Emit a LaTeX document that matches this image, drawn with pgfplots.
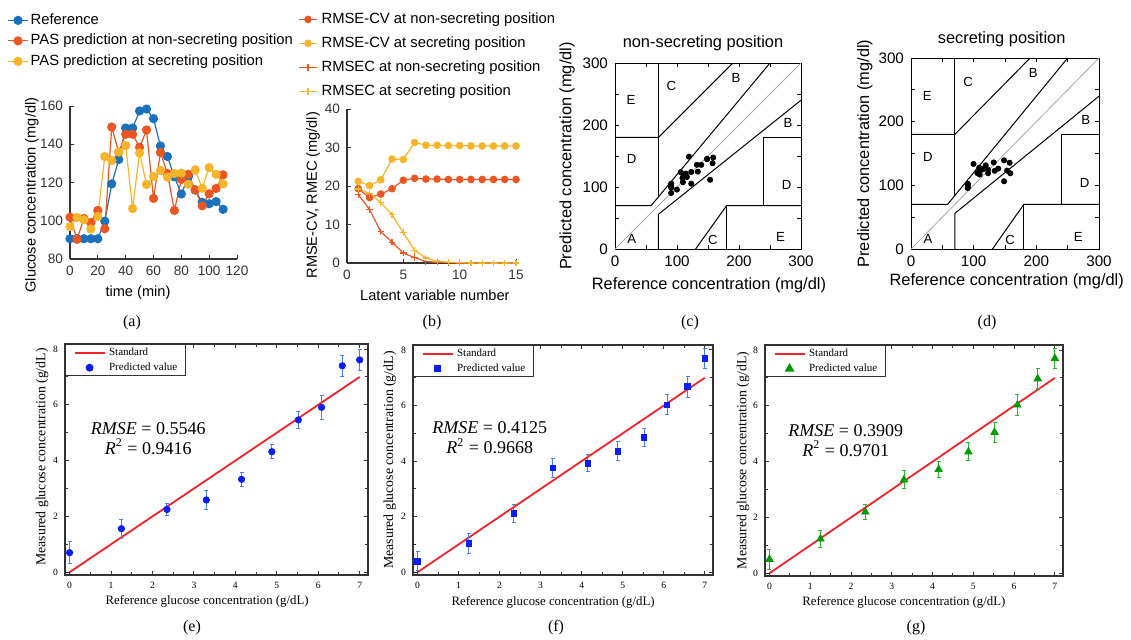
\documentclass[border=0pt]{standalone}
\usepackage{pgfplots}
\pgfplotsset{compat=1.18}
\usepackage{pgfplotstable}
\usepackage{fontspec}
\setmainfont{Liberation Serif}
\newfontfamily\arial{Liberation Sans}

\definecolor{mblue}{HTML}{1A72BD}
\definecolor{mred}{HTML}{EC5622}
\definecolor{myel}{HTML}{F6B42A}
\definecolor{axgray}{HTML}{333333}
\definecolor{pblue}{HTML}{0A1EF5}
\definecolor{eblue}{HTML}{4C7CF2}
\definecolor{pgreen}{HTML}{009A00}
\definecolor{egreen}{HTML}{2DB52D}
\definecolor{stdred}{HTML}{F2222A}

\pgfplotstableread{
t ref non sec
0 90.6 101.9 97.0
5 90.6 90.3 101.7
10 90.6 101.2 100.5
15 90.6 99.1 95.7
20 90.6 105.4 102.3
25 99.8 95.8 133.6
30 119.3 149.0 131.5
35 132.0 135.8 136.0
40 148.5 145.2 139.3
45 148.5 145.2 106.4
50 157.4 138.4 135.5
55 158.4 147.5 119.0
60 153.4 111.7 123.1
65 139.1 135.7 126.3
70 133.6 124.7 122.8
75 123.0 105.4 124.7
80 114.0 121.6 124.9
85 123.0 124.3 119.1
90 116.0 116.2 126.6
95 109.6 107.8 117.0
100 108.9 114.1 127.8
105 110.0 116.9 124.3
110 106.0 124.0 119.3
}\tabA

\pgfplotstableread{
n cvn cvs cn cs
1 19.3 21.2 17.8 19.2
2 17.0 20.1 13.9 18.1
3 17.9 21.6 8.1 15.7
4 19.3 27.0 5.4 12.5
5 21.5 26.9 2.6 7.9
6 22.0 31.3 1.4 3.3
7 21.8 30.6 0.4 1.3
8 21.8 30.6 0.2 0.5
9 21.7 30.5 0.1 0.2
10 21.7 30.5 0.0 0.1
11 21.7 30.4 0.0 0.0
12 21.7 30.4 0.0 0.0
13 21.7 30.4 0.0 0.0
14 21.7 30.4 0.0 0.0
15 21.7 30.4 0.0 0.0
}\tabB

\pgfplotstableread{
x e ee f fe g ge
0    0.70 0.40 0.40 0.35 0.50 0.35
1.25 1.56 0.34 1.03 0.36 1.23 0.31
2.35 2.25 0.22 2.11 0.33 2.20 0.26
3.30 2.59 0.35 3.75 0.35 3.35 0.32
4.15 3.33 0.25 3.92 0.31 3.72 0.29
4.88 4.32 0.26 4.35 0.34 4.35 0.32
5.52 5.46 0.31 4.85 0.34 5.05 0.36
6.08 5.91 0.43 6.03 0.37 6.03 0.37
6.58 7.40 0.38 6.68 0.38 6.97 0.35
7.00 7.61 0.37 7.69 0.36 7.70 0.35
}\tabC

\tikzset{
 zl/.style={font=\arial\fontsize{6.6}{7}\selectfont, inner sep=0pt},
 rmse/.style={font=\fontsize{9}{10}\selectfont, align=center},
}

\pgfplotsset{
 mat/.style={
  scale only axis,
  axis lines=left,
  axis line style={-, draw=axgray, line width=0.55pt},
  tick style={axgray, line width=0.45pt},
  tick align=inside,
  major tick length=2.2pt,
  ticklabel style={font=\arial\fontsize{6.8}{8}\selectfont, text=axgray},
  /pgf/number format/assume math mode=true,
  label style={font=\arial\fontsize{7.3}{8.5}\selectfont},
  legend cell align=left,
  legend style={draw=none, fill=none, inner sep=0pt, anchor=north west,
     font=\arial\fontsize{7.4}{9}\selectfont,
     nodes={inner sep=0pt, text height=5.4pt, text depth=1.6pt}},
 },
 clarke/.style={
  scale only axis,
  xmin=0,xmax=300,ymin=0,ymax=300,
  xtick={0,100,200,300}, ytick={0,100,200,300},
  minor tick num=1,
  tick align=inside,
  major tick length=2pt, minor tick length=2pt,
  axis line style={line width=0.5pt},
  tick style={black, line width=0.4pt},
  ticklabel style={font=\arial\fontsize{7.6}{8}\selectfont},
  /pgf/number format/assume math mode=true,
  label style={font=\arial\fontsize{8.2}{9}\selectfont},
  every axis title shift=0pt,
  title style={font=\arial\fontsize{8.2}{9}\selectfont, anchor=center},
 },
 zone/.style={black, line width=0.5pt, no marks},
 orig/.style={
  scale only axis,
  xmin=-0.11, xmax=7.2, ymin=-0.1, ymax=8.18,
  xtick={0,...,7}, ytick={0,2,4,6,8},
  minor x tick num=1, minor y tick num=1,
  tick align=inside,
  major tick length=2.2pt, minor tick length=1.3pt,
  axis line style={line width=0.7pt, black!80},
  tick style={line width=0.5pt, black!80},
  ticklabel style={font=\fontsize{4.8}{5}\selectfont},
  /pgf/number format/assume math mode=true,
  xlabel style={font=\fontsize{6.4}{7}\selectfont},
  ylabel style={font=\fontsize{6.9}{7}\selectfont},
  xlabel={Reference glucose concentration (g/dL)},
  ylabel={Measured glucose concentration (g/dL)},
  legend cell align=left,
  legend style={at={(0,1)}, anchor=north west, draw=black!80, line width=0.7pt,
     fill=white, inner xsep=4pt, inner ysep=1.4pt, row sep=2.3pt, column sep=1.8pt,
     font=\fontsize{5.5}{6}\selectfont,
     nodes={inner sep=0pt, text height=4pt, text depth=1.2pt}},
  legend image code/.code={\draw[mark repeat=2,mark phase=2,#1] plot coordinates {(0pt,0pt) (7.5pt,0pt) (15pt,0pt)};},
 },
}

\begin{document}
\begin{tikzpicture}
\path (0,0) rectangle (565.5pt,-319.5pt);

% ---------- (a)
\begin{axis}[mat, at={(35pt,-129.5pt)}, anchor=south west, width=83.5pt, height=76.5pt,
  xmin=0, xmax=120, ymin=80, ymax=160, xtick={0,20,...,120}, ytick={80,100,...,160},
  xlabel={time (min)}, ylabel={Glucose concentration (mg/dl)},
  xlabel style={at={(axis description cs:0.407,-0.222)}, anchor=center},
  ylabel style={at={(axis description cs:-0.228,0.418)}, anchor=center},
  legend style={at={(-0.377,1.608)}, row sep=3.25pt, column sep=1pt},
  legend image code/.code={\draw[mark repeat=2,mark phase=2,#1] plot coordinates {(0pt,0pt) (5pt,0pt) (10pt,0pt)};},
  ]
\addplot[mblue, line width=0.6pt, mark=*, mark size=2pt] table[x=t,y=ref]{\tabA};
\addlegendentry{Reference}
\addplot[mred, line width=0.6pt, mark=*, mark size=2pt] table[x=t,y=non]{\tabA};
\addlegendentry{PAS prediction at non-secreting position}
\addplot[myel, line width=0.6pt, mark=*, mark size=2pt] table[x=t,y=sec]{\tabA};
\addlegendentry{PAS prediction at secreting position}
\end{axis}

% ---------- (b)
\begin{axis}[mat, at={(173.5pt,-131.5pt)}, anchor=south west, width=84.5pt, height=77pt,
  xmin=0, xmax=15, ymin=0, ymax=40, xtick={0,5,10,15}, ytick={0,10,...,40},
  xlabel={Latent variable number}, ylabel={RMSE-CV, RMEC (mg/dl)},
  xlabel style={at={(axis description cs:0.52,-0.208)}, anchor=center},
  ylabel style={at={(axis description cs:-0.201,0.44)}, anchor=center},
  legend style={at={(-0.290,1.630)}, row sep=5pt, column sep=2pt},
  legend image code/.code={\draw[mark repeat=2,mark phase=2,#1] plot coordinates {(0pt,0pt) (4.5pt,0pt) (9pt,0pt)};},
  ]
\addplot[mred, line width=0.6pt, mark=*, mark size=1.6pt] table[x=n,y=cvn]{\tabB};
\addlegendentry{RMSE-CV at non-secreting position}
\addplot[myel, line width=0.6pt, mark=*, mark size=1.6pt] table[x=n,y=cvs]{\tabB};
\addlegendentry{RMSE-CV at secreting position}
\addplot[mred, line width=0.6pt, mark=+, mark size=1.6pt] table[x=n,y=cn]{\tabB};
\addlegendentry{RMSEC at non-secreting position}
\addplot[myel, line width=0.6pt, mark=+, mark size=1.6pt] table[x=n,y=cs]{\tabB};
\addlegendentry{RMSEC at secreting position}
\end{axis}

% ---------- (c)
\begin{axis}[clarke, at={(307.5pt,-124.5pt)}, anchor=south west, width=93pt, height=93pt,
  title={non-secreting position},
  title style={at={(axis description cs:0.473,1.108)}},
  xlabel={Reference concentration (mg/dl)}, ylabel={Predicted concentration (mg/dl)},
  xlabel style={at={(axis description cs:0.505,-0.194)}, anchor=center},
  ylabel style={at={(axis description cs:-0.258,0.5)}, anchor=center},
  ]
\addplot[gray!70, line width=0.4pt, no marks] coordinates {(0,0) (300,300)};
\addplot[zone] coordinates {(0,70) (58.33,70) (250,300)};
\addplot[zone] coordinates {(70,84) (70,300)};
\addplot[zone] coordinates {(0,180) (70,180) (190,300)};
\addplot[zone] coordinates {(70,0) (70,56) (300,240)};
\addplot[zone] coordinates {(130,0) (180,70) (300,70)};
\addplot[zone] coordinates {(180,0) (180,70)};
\addplot[zone] coordinates {(240,70) (240,180) (300,180)};
\addplot[only marks, mark=*, mark size=1.3pt, black] table[x=ref,y=non]{\tabA};
\node[zl] at (axis cs:27,16) {A};
\node[zl] at (axis cs:195,276) {B};
\node[zl] at (axis cs:279,203) {B};
\node[zl] at (axis cs:91,263) {C};
\node[zl] at (axis cs:158,15) {C};
\node[zl] at (axis cs:27,145) {D};
\node[zl] at (axis cs:277,104) {D};
\node[zl] at (axis cs:26,240) {E};
\node[zl] at (axis cs:267,19) {E};
\end{axis}

% ---------- (d)
\begin{axis}[clarke, at={(455.5pt,-124.5pt)}, anchor=south west, width=94pt, height=95.5pt,
  title={secreting position},
  title style={at={(axis description cs:0.482,1.098)}},
  xlabel={Reference concentration (mg/dl)}, ylabel={Predicted concentration (mg/dl)},
  xlabel style={at={(axis description cs:0.509,-0.171)}, anchor=center},
  ylabel style={at={(axis description cs:-0.245,0.5)}, anchor=center},
  ]
\addplot[gray!70, line width=0.4pt, no marks] coordinates {(0,0) (300,300)};
\addplot[zone] coordinates {(0,70) (58.33,70) (250,300)};
\addplot[zone] coordinates {(70,84) (70,300)};
\addplot[zone] coordinates {(0,180) (70,180) (190,300)};
\addplot[zone] coordinates {(70,0) (70,56) (300,240)};
\addplot[zone] coordinates {(130,0) (180,70) (300,70)};
\addplot[zone] coordinates {(180,0) (180,70)};
\addplot[zone] coordinates {(240,70) (240,180) (300,180)};
\addplot[only marks, mark=*, mark size=1.3pt, black] table[x=ref,y=sec]{\tabA};
\node[zl] at (axis cs:27,16) {A};
\node[zl] at (axis cs:195,276) {B};
\node[zl] at (axis cs:279,203) {B};
\node[zl] at (axis cs:91,263) {C};
\node[zl] at (axis cs:158,15) {C};
\node[zl] at (axis cs:27,145) {D};
\node[zl] at (axis cs:277,104) {D};
\node[zl] at (axis cs:26,240) {E};
\node[zl] at (axis cs:267,19) {E};
\end{axis}

% ---------- (e)
\begin{axis}[orig, at={(32.5pt,-287.5pt)}, anchor=south west, width=151.5pt, height=115.5pt,
  xlabel style={at={(axis description cs:0.469,-0.113)}, anchor=center},
  ylabel style={at={(axis description cs:-0.076,0.511)}, anchor=center},
  ]
\addplot[stdred, line width=0.9pt, no marks] coordinates {(0,0) (7,7)};
\addlegendentry{Standard}
\addplot[only marks, mark=*, mark size=1.6pt, pblue,
  error bars/.cd, y dir=both, y explicit,
  error bar style={eblue, line width=0.5pt},
  error mark options={rotate=90, mark size=1pt, eblue, line width=0.5pt}]
  table[x=x, y=e, y error=ee]{\tabC};
\addlegendentry{Predicted value\hspace{8pt}}
\node[rmse] at (axis cs:1.9,4.8) {\textit{RMSE} = 0.5546\\\textit{R}\textsuperscript{2} = 0.9416};
\end{axis}

% ---------- (f)
\begin{axis}[orig, at={(206.5pt,-287.5pt)}, anchor=south west, width=150pt, height=115pt,
  xlabel style={at={(axis description cs:0.467,-0.118)}, anchor=center},
  ylabel style={at={(axis description cs:-0.077,0.5)}, anchor=center},
  ]
\addplot[stdred, line width=0.9pt, no marks] coordinates {(0,0) (7,7)};
\addlegendentry{Standard}
\addplot[only marks, mark=square*, mark size=1.4pt, pblue,
  error bars/.cd, y dir=both, y explicit,
  error bar style={eblue, line width=0.5pt},
  error mark options={rotate=90, mark size=1pt, eblue, line width=0.5pt}]
  table[x=x, y=f, y error=fe]{\tabC};
\addlegendentry{Predicted value\hspace{8pt}}
\node[rmse] at (axis cs:1.76,4.83) {\textit{RMSE} = 0.4125\\\textit{R}\textsuperscript{2} = 0.9668};
\end{axis}

% ---------- (g)
\begin{axis}[orig, at={(382.5pt,-288pt)}, anchor=south west, width=149pt, height=115.5pt,
  xlabel style={at={(axis description cs:0.466,-0.113)}, anchor=center},
  ylabel style={at={(axis description cs:-0.074,0.5)}, anchor=center},
  ]
\addplot[stdred, line width=0.9pt, no marks] coordinates {(0,0) (7,7)};
\addlegendentry{Standard}
\addplot[only marks, mark=triangle*, mark size=2.1pt, pgreen,
  error bars/.cd, y dir=both, y explicit,
  error bar style={egreen, line width=0.5pt},
  error mark options={rotate=90, mark size=1pt, egreen, line width=0.5pt}]
  table[x=x, y=g, y error=ge]{\tabC};
\addlegendentry{Predicted value\hspace{8pt}}
\node[rmse] at (axis cs:1.87,4.75) {\textit{RMSE} = 0.3909\\\textit{R}\textsuperscript{2} = 0.9701};
\end{axis}

% ---------- panel labels
\node[font=\fontsize{8}{9}\selectfont] at (66pt,-161.5pt) {(a)};
\node[font=\fontsize{8}{9}\selectfont] at (216pt,-161.5pt) {(b)};
\node[font=\fontsize{8}{9}\selectfont] at (345pt,-161.5pt) {(c)};
\node[font=\fontsize{8}{9}\selectfont] at (493.5pt,-161.5pt) {(d)};
\node[font=\fontsize{8}{9}\selectfont] at (96pt,-314pt) {(e)};
\node[font=\fontsize{8}{9}\selectfont] at (278pt,-314pt) {(f)};
\node[font=\fontsize{8}{9}\selectfont] at (458pt,-314pt) {(g)};

\pgfresetboundingbox
\path[use as bounding box] (0,0) rectangle (565.5pt,-319.5pt);
\end{tikzpicture}
\end{document}
